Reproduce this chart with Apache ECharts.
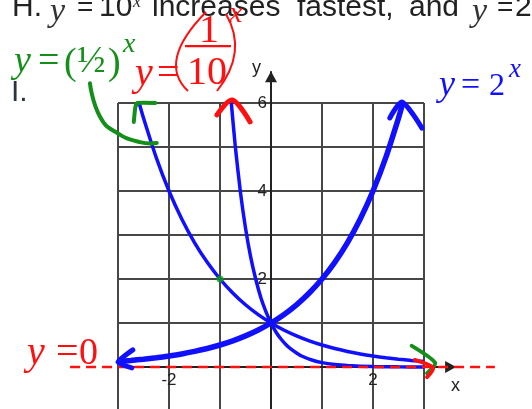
<!DOCTYPE html>
<html>
<head>
<meta charset="utf-8">
<script src="https://cdn.jsdelivr.net/npm/echarts@6/dist/echarts.min.js"></script>
<style>
  html, body { margin: 0; padding: 0; background: #ffffff; }
  #chart { width: 532px; height: 409px; }
</style>
</head>
<body>
<div id="chart"></div>
<script>
// ---- axis ranges and labelled ticks ----
const xRange = [-3, 3];
const yRange = [-1, 6];
const xLabelTicks = [-2, 2];
const yLabelTicks = [2, 4, 6];

// ---- y = 2^x ----
const growX = [-3, -2.75, -2.5, -2.25, -2, -1.75, -1.5, -1.25, -1, -0.75, -0.5, -0.25, 0,
               0.25, 0.5, 0.75, 1, 1.25, 1.5, 1.75, 2, 2.25, 2.5, 2.585];
const growY = [0.125, 0.149, 0.177, 0.21, 0.25, 0.297, 0.354, 0.42, 0.5, 0.595, 0.707, 0.841, 1,
               1.189, 1.414, 1.682, 2, 2.378, 2.828, 3.364, 4, 4.757, 5.657, 6];

// ---- y = (1/2)^x ----
const halfX = [-2.585, -2.5, -2.25, -2, -1.75, -1.5, -1.25, -1, -0.75, -0.5, -0.25, 0,
               0.25, 0.5, 0.75, 1, 1.25, 1.5, 1.75, 2, 2.25, 2.5, 2.75, 3];
const halfY = [6, 5.657, 4.757, 4, 3.364, 2.828, 2.378, 2, 1.682, 1.414, 1.189, 1,
               0.841, 0.707, 0.595, 0.5, 0.42, 0.354, 0.297, 0.25, 0.21, 0.177, 0.149, 0.125];

// ---- y = (1/10)^x ----
const tenthX = [-0.778, -0.7, -0.6, -0.5, -0.4, -0.3, -0.2, -0.1, 0, 0.1, 0.2, 0.3, 0.4, 0.5,
                0.6, 0.8, 1, 1.25, 1.5, 2, 2.5, 3];
const tenthY = [6, 5.01, 3.98, 3.16, 2.51, 2.0, 1.58, 1.26, 1, 0.79, 0.63, 0.5, 0.4, 0.32,
                0.25, 0.16, 0.1, 0.056, 0.032, 0.01, 0.003, 0.001];

// highlighted point on y = (1/2)^x
const markedPoint = [[-1, 2]];

// horizontal asymptote y = 0 (dashed)
const asymptote = [[-3.94, 0], [4.39, 0]];

// hand-drawn arrow hooks and marks, in graph units
const blueTopHook   = [[2.33, 5.66], [2.57, 6.02], [2.96, 5.43]];
const blueLeftHook  = [[-2.71, 0.39], [-3.0, 0.11], [-2.73, -0.02]];
const greenTopHook  = [[-2.69, 5.57], [-2.66, 5.9], [-2.62, 6.0], [-2.27, 6.0]];
const greenArc      = [[-3.55, 6.45], [-3.35, 5.68], [-3.02, 5.32], [-2.57, 5.11], [-2.24, 5.09]];
const redTopHook    = [[-1.06, 5.73], [-0.76, 6.07], [-0.41, 5.57]];
const greenEndHook  = [[2.76, 0.48], [3.22, 0.09], [3.06, -0.14]];
const redEndHook    = [[2.82, 0.16], [3.18, -0.02], [3.06, -0.23]];

// axis arrow tips
const yAxisTip = [0, 6.72];
const xAxisTip = [3.63, 0];

const BLUE = '#1010ff';
const GREEN = '#14901a';
const RED = '#ff1010';
const INK = '#222222';
const GRIDLINE = '#474747';

const zip = (xs, ys) => xs.map((x, i) => [x, ys[i]]);

const strokes = [
  { pts: blueTopHook,  color: BLUE,  width: 5, smooth: 0.25 },
  { pts: blueLeftHook, color: BLUE,  width: 5, smooth: 0.2 },
  { pts: greenTopHook, color: GREEN, width: 4, smooth: 0.2 },
  { pts: greenArc,     color: GREEN, width: 4, smooth: 0.5 },
  { pts: redTopHook,   color: RED,   width: 5, smooth: 0.3 },
  { pts: greenEndHook, color: GREEN, width: 4, smooth: 0.25 },
  { pts: redEndHook,   color: RED,   width: 4, smooth: 0.25 }
];

// text placed by its baseline
function label(text, x, base, size, fill, opts) {
  opts = opts || {};
  const serif = !opts.family;
  return {
    type: 'text',
    z: 50,
    x: x,
    y: base - (serif ? 0.17 : 0.33) * size,
    scaleX: opts.sx || 1,
    style: {
      text: text,
      x: 0,
      y: 0,
      fill: fill,
      fontSize: size,
      fontFamily: opts.family || 'Liberation Serif',
      fontStyle: opts.italic ? 'italic' : 'normal',
      align: opts.align || 'left',
      verticalAlign: 'middle'
    }
  };
}
const sans = { family: 'Liberation Sans' };
const it = { italic: true };

const tickFont = { fontSize: 17, fontFamily: 'Liberation Sans', fill: '#222222' };

const chart = echarts.init(document.getElementById('chart'), null, { renderer: 'canvas' });

chart.setOption({
  animation: false,
  backgroundColor: '#ffffff',
  grid: {
    left: 118, right: 108, top: 103, bottom: -2,
    containLabel: false,
    outerBoundsMode: 'none'
  },
  xAxis: {
    type: 'value',
    min: xRange[0], max: xRange[1], interval: 1,
    axisLine: { show: false },
    axisTick: { show: false },
    axisLabel: { show: false },
    splitLine: { show: true, lineStyle: { color: GRIDLINE, width: 2 } }
  },
  yAxis: {
    type: 'value',
    min: yRange[0], max: yRange[1], interval: 1,
    axisLine: { show: false },
    axisTick: { show: false },
    axisLabel: { show: false },
    splitLine: { show: true, lineStyle: { color: GRIDLINE, width: 2 } }
  },
  series: [
    {
      name: 'axes',
      type: 'custom',
      z: 3,
      data: [yAxisTip, xAxisTip],
      renderItem: function (params, api) {
        const tip = api.coord([api.value(0), api.value(1)]);
        const vertical = params.dataIndex === 0;
        const base = vertical ? api.coord([0, yRange[0]]) : api.coord([xRange[0], 0]);
        const pts = vertical
          ? [[tip[0], tip[1]], [tip[0] - 6, tip[1] + 11], [tip[0] + 6, tip[1] + 11]]
          : [[tip[0], tip[1]], [tip[0] - 11, tip[1] - 6], [tip[0] - 11, tip[1] + 6]];
        return {
          type: 'group',
          children: [
            { type: 'line', shape: { x1: base[0], y1: base[1], x2: tip[0], y2: tip[1] },
              style: { stroke: INK, lineWidth: 2 } },
            { type: 'polygon', shape: { points: pts }, style: { fill: INK } }
          ]
        };
      }
    },
    {
      name: 'x tick labels',
      type: 'custom',
      z: 4,
      data: xLabelTicks.map(v => [v, 0]),
      renderItem: function (params, api) {
        const p = api.coord([api.value(0), api.value(1)]);
        return {
          type: 'text', x: p[0], y: p[1] + 5,
          style: Object.assign({ text: String(api.value(0)), align: 'center', verticalAlign: 'top' }, tickFont)
        };
      }
    },
    {
      name: 'y tick labels',
      type: 'custom',
      z: 4,
      data: yLabelTicks.map(v => [0, v]),
      renderItem: function (params, api) {
        const p = api.coord([api.value(0), api.value(1)]);
        return {
          type: 'text', x: p[0] - 4, y: p[1],
          style: Object.assign({ text: String(api.value(1)), align: 'right', verticalAlign: 'middle' }, tickFont)
        };
      }
    },
    {
      name: 'y = 2^x',
      type: 'line',
      z: 5,
      data: zip(growX, growY),
      symbol: 'none',
      smooth: 0.2,
      lineStyle: { color: BLUE, width: 5.5 }
    },
    {
      name: 'y = (1/2)^x',
      type: 'line',
      z: 5,
      data: zip(halfX, halfY),
      symbol: 'none',
      smooth: 0.2,
      lineStyle: { color: BLUE, width: 3.5 }
    },
    {
      name: 'y = (1/10)^x',
      type: 'line',
      z: 5,
      data: zip(tenthX, tenthY),
      symbol: 'none',
      smooth: 0.2,
      lineStyle: { color: BLUE, width: 3.5 }
    },
    {
      name: 'point',
      type: 'scatter',
      z: 6,
      data: markedPoint,
      symbol: 'circle',
      symbolSize: 7,
      itemStyle: { color: '#0aa50a' }
    },
    {
      name: 'asymptote',
      type: 'custom',
      z: 7,
      data: [asymptote[0]],
      renderItem: function (params, api) {
        const a = api.coord(asymptote[0]);
        const b = api.coord(asymptote[1]);
        return {
          type: 'line',
          shape: { x1: a[0], y1: a[1], x2: b[0], y2: b[1] },
          style: { stroke: RED, lineWidth: 2.6, lineDash: [10, 6] }
        };
      }
    },
    {
      name: 'pen marks',
      type: 'custom',
      z: 8,
      data: strokes.map(s => s.pts[0]),
      renderItem: function (params, api) {
        const s = strokes[params.dataIndex];
        return {
          type: 'polyline',
          shape: { points: s.pts.map(p => api.coord(p)), smooth: s.smooth },
          style: { stroke: s.color, lineWidth: s.width, fill: null, lineCap: 'round', lineJoin: 'round' }
        };
      }
    }
  ],
  graphic: [
    // heading line
    label('H.', 12, 18, 30, INK, sans),
    label('y', 50, 18, 34, '#333333', it),
    label('=', 77, 18, 28, INK, sans),
    label('10', 99, 18, 30, INK, sans),
    label('x', 133, 5, 18, '#333333', it),
    label('increases', 152, 18, 30, INK, sans),
    label('fastest,', 297, 18, 30, INK, sans),
    label('and', 409, 18, 30, INK, sans),
    label('y', 472, 18, 34, '#333333', it),
    label('=', 497, 18, 28, INK, sans),
    label('2', 515, 18, 30, INK, sans),
    label('I.', 11, 103, 30, '#2c3440', sans),

    // axis names
    label('y', 252, 74, 18, INK, sans),
    label('x', 451, 392, 18, INK, sans),

    // y = (1/2)^x
    label('y', 14, 68, 38, GREEN, it),
    label('=', 38, 68, 38, GREEN),
    label('(', 64, 70, 38, GREEN),
    label('\u00bd', 77, 68, 38, GREEN),
    label(')', 108, 70, 38, GREEN),
    label('x', 123, 49, 28, GREEN, it),

    // y = (1/10)^x
    label('y', 135, 81, 40, RED, it),
    label('=', 157, 81, 40, RED),
    label('1', 199, 38, 40, RED),
    label('10', 187, 80, 40, RED),
    { type: 'rect', z: 50, shape: { x: 185, y: 45, width: 46, height: 2.2 }, style: { fill: RED } },
    { type: 'bezierCurve', z: 50, shape: { x1: 206, y1: 12, cpx1: 157, cpy1: 62, x2: 188, y2: 91 },
      style: { stroke: RED, lineWidth: 2, fill: null } },
    { type: 'bezierCurve', z: 50, shape: { x1: 226, y1: 14, cpx1: 248, cpy1: 52, x2: 217, y2: 91 },
      style: { stroke: RED, lineWidth: 2, fill: null } },
    label('x', 229, 19, 30, RED, it),

    // y = 2^x
    label('y', 439, 92, 36, BLUE, it),
    label('=', 461, 92, 34, BLUE),
    label('2', 489, 92, 32, BLUE),
    label('x', 509, 74, 27, BLUE, it),

    // y = 0
    label('y', 27, 360, 40, RED, it),
    label('=', 56, 360, 40, RED),
    label('0', 79, 360, 38, RED)
  ]
});
</script>
</body>
</html>
